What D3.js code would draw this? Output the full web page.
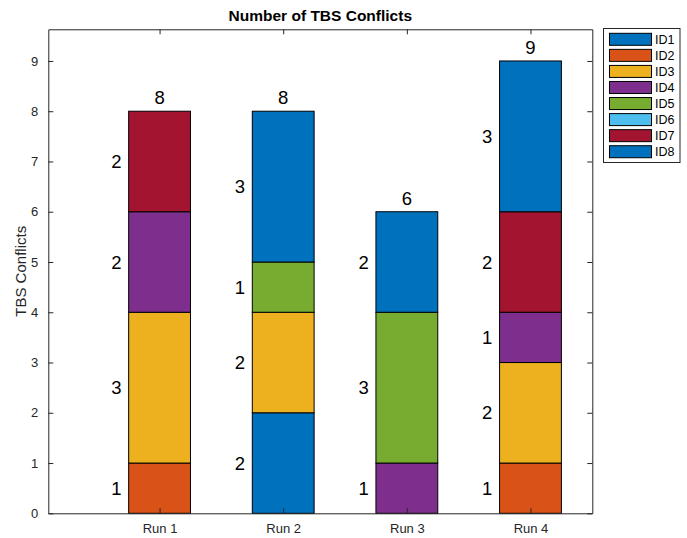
<!DOCTYPE html>
<html>
<head>
<meta charset="utf-8">
<script src="https://cdn.jsdelivr.net/npm/d3@7"></script>
<style>
body { margin: 0; background: #fff; }
text { font-family: "Liberation Sans", Arial, Helvetica, sans-serif; }
</style>
</head>
<body>
<svg id="chart" width="687" height="538"></svg>
<script>
const categories = ["Run 1", "Run 2", "Run 3", "Run 4"];
const seriesNames = ["ID1", "ID2", "ID3", "ID4", "ID5", "ID6", "ID7", "ID8"];
const ID1 = [0, 2, 0, 0];
const ID2 = [1, 0, 0, 1];
const ID3 = [3, 2, 0, 2];
const ID4 = [2, 0, 1, 1];
const ID5 = [0, 1, 3, 0];
const ID6 = [0, 0, 0, 0];
const ID7 = [2, 0, 0, 2];
const ID8 = [0, 3, 2, 3];
const seriesValues = [ID1, ID2, ID3, ID4, ID5, ID6, ID7, ID8];
const colors = ["#0072BD", "#D95319", "#EDB120", "#7E2F8E", "#77AC30", "#4DBEEE", "#A2142F", "#0072BD"];
const yTicks = [0, 1, 2, 3, 4, 5, 6, 7, 8, 9];
const title = "Number of TBS Conflicts";
const yLabel = "TBS Conflicts";

const svg = d3.select("#chart");
const L = 48.3, R = 592.3, T = 29.3, B = 513.3;
const x = d3.scaleLinear().domain([0.1, 4.5]).range([L, R]);
const y = d3.scaleLinear().domain([0, 9.63]).range([B, T]);
const barW = 0.5;
const axisColor = "#262626";

// stack data
const rows = categories.map((c, i) => {
  const r = { idx: i + 1 };
  seriesNames.forEach((s, k) => r[s] = seriesValues[k][i]);
  return r;
});
const stack = d3.stack().keys(seriesNames)(rows);

const g = svg.append("g");
stack.forEach((layer, k) => {
  g.selectAll(null).data(layer.filter(d => d[1] - d[0] > 0)).enter().append("rect")
    .attr("x", d => x(d.data.idx - barW / 2))
    .attr("width", d => x(d.data.idx + barW / 2) - x(d.data.idx - barW / 2))
    .attr("y", d => y(d[1]))
    .attr("height", d => y(d[0]) - y(d[1]))
    .attr("fill", colors[k])
    .attr("stroke", "#000")
    .attr("stroke-width", 1);
  g.selectAll(null).data(layer.filter(d => d[1] - d[0] > 0)).enter().append("text")
    .attr("x", d => x(d.data.idx - 0.35))
    .attr("y", d => y((d[0] + d[1]) / 2))
    .attr("dy", "0.36em")
    .attr("text-anchor", "middle")
    .attr("font-size", 18.5)
    .attr("fill", "#000")
    .text(d => d[1] - d[0]);
});

// totals
const totals = categories.map((c, i) => seriesValues.reduce((a, s) => a + s[i], 0));
g.selectAll(null).data(totals).enter().append("text")
  .attr("x", (d, i) => x(i + 1))
  .attr("y", d => y(d) - 7)
  .attr("text-anchor", "middle")
  .attr("font-size", 18.5)
  .attr("fill", "#000")
  .text(d => d);

// axes
const xAxis = d3.axisBottom(x).tickValues([1, 2, 3, 4]).tickFormat((d, i) => categories[i]).tickSizeInner(-5).tickSizeOuter(0).tickPadding(10);
const yAxis = d3.axisLeft(y).tickValues(yTicks).tickFormat(d3.format("d")).tickSizeInner(-5).tickSizeOuter(0).tickPadding(10);
const xTop = d3.axisTop(x).tickValues([1, 2, 3, 4]).tickFormat("").tickSizeInner(-5).tickSizeOuter(0);
const yRight = d3.axisRight(y).tickValues(yTicks).tickFormat("").tickSizeInner(-5).tickSizeOuter(0);

function styleAxis(sel) {
  sel.selectAll("path").attr("stroke", axisColor).attr("stroke-width", 1);
  sel.selectAll("line").attr("stroke", axisColor).attr("stroke-width", 1);
  sel.selectAll("text").attr("fill", axisColor).attr("font-size", 13).attr("font-family", "Liberation Sans, Arial, sans-serif");
}
svg.append("g").attr("transform", `translate(0,${B})`).call(xAxis).call(styleAxis);
svg.append("g").attr("transform", `translate(${L},0)`).call(yAxis).call(styleAxis);
svg.append("g").attr("transform", `translate(0,${T})`).call(xTop).call(styleAxis);
svg.append("g").attr("transform", `translate(${R},0)`).call(yRight).call(styleAxis);

// title
svg.append("text").attr("x", (L + R) / 2).attr("y", 20.5).attr("text-anchor", "middle")
  .attr("font-size", 15.5).attr("font-weight", "bold").attr("fill", "#000").text(title);
// y label
svg.append("text").attr("transform", `translate(26,${(T + B) / 2}) rotate(-90)`)
  .attr("text-anchor", "middle").attr("font-size", 15).attr("fill", axisColor).text(yLabel);

// legend
const lg = svg.append("g");
lg.append("rect").attr("x", 603.5).attr("y", 28.5).attr("width", 76.5).attr("height", 134)
  .attr("fill", "#fff").attr("stroke", axisColor).attr("stroke-width", 1);
seriesNames.forEach((s, k) => {
  const cy = 39.3 + k * 16.06;
  lg.append("rect").attr("x", 609.5).attr("y", cy - 6).attr("width", 42).attr("height", 12)
    .attr("fill", colors[k]).attr("stroke", "#000").attr("stroke-width", 1);
  lg.append("text").attr("x", 655).attr("y", cy).attr("dy", "0.36em")
    .attr("font-size", 12.5).attr("fill", "#000").text(s);
});
</script>
</body>
</html>
